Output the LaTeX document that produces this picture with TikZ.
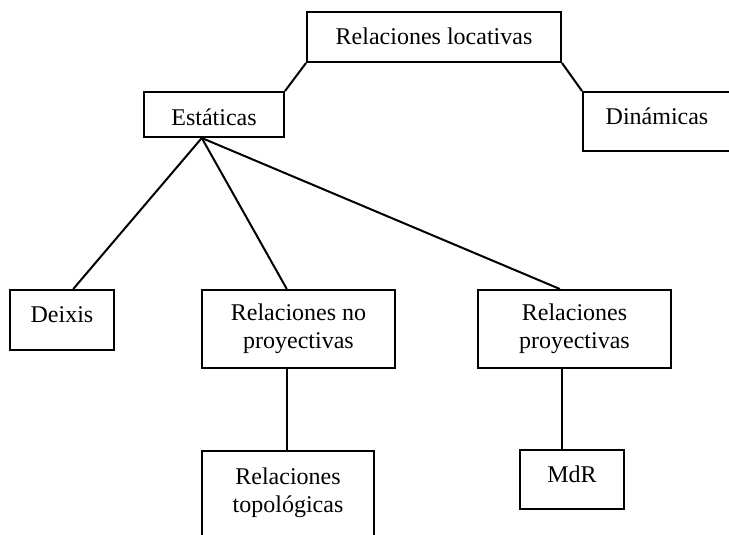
\documentclass[tikz,border=0pt]{standalone}
\usepackage{fontspec}
\setmainfont{Liberation Serif}
\usetikzlibrary{calc}
\begin{document}
\begin{tikzpicture}[x=0.5pt,y=-0.5pt,
  box/.style={draw,line width=1pt,inner sep=0pt,align=center,
    font=\fontsize{12pt}{13.8pt}\selectfont},
  one/.style={box,text height=7.5pt,text depth=0pt},
  link/.style={line width=1pt}]
\useasboundingbox (0,0) rectangle (729,535);
\clip (0,0) rectangle (729,535);

% boxes
\node[one, minimum width=127pt, minimum height=25pt] (rl) at (434,37) {Relaciones locativas};
\node[one, text height=11pt, minimum width=70pt, minimum height=22.5pt] (est) at (214,114.5) {Estáticas};
\node[one, text depth=4pt, minimum width=74pt, minimum height=29.5pt] (din) at (657,121.5) {Dinámicas};
\node[one, text depth=5pt, minimum width=52pt, minimum height=30pt] (dx) at (62,320) {Deixis};
\node[box, minimum width=96.5pt, minimum height=39pt] (rnp) at (298.5,329) {Relaciones no\\proyectivas};
\node[box, minimum width=96.5pt, minimum height=39pt] (rp) at (574.5,329) {Relaciones\\proyectivas};
\node[box, anchor=north, inner ysep=8.5pt, text depth=40pt, minimum width=86pt] (rt) at (288,450) {Relaciones\\topológicas};
\node[one, text depth=4.5pt, minimum width=52pt, minimum height=29.5pt] (mdr) at (572,479.5) {MdR};

% connectors
\draw[link] (rl.south west) -- (est.north east);
\draw[link] (rl.south east) -- (din.north west);
\coordinate (eb) at ($(est.south west)!0.414!(est.south east)$);
\draw[link] (eb) -- ($(dx.north west)!0.606!(dx.north east)$);
\draw[link] (eb) -- ($(rnp.north west)!0.44!(rnp.north east)$);
\draw[link] (eb) -- ($(rp.north west)!0.425!(rp.north east)$);
\coordinate (nb) at ($(rnp.south west)!0.44!(rnp.south east)$);
\draw[link] (nb) -- (nb |- rt.north);
\coordinate (pb) at ($(rp.south west)!0.435!(rp.south east)$);
\draw[link] (pb) -- (pb |- mdr.north);
\end{tikzpicture}
\end{document}
